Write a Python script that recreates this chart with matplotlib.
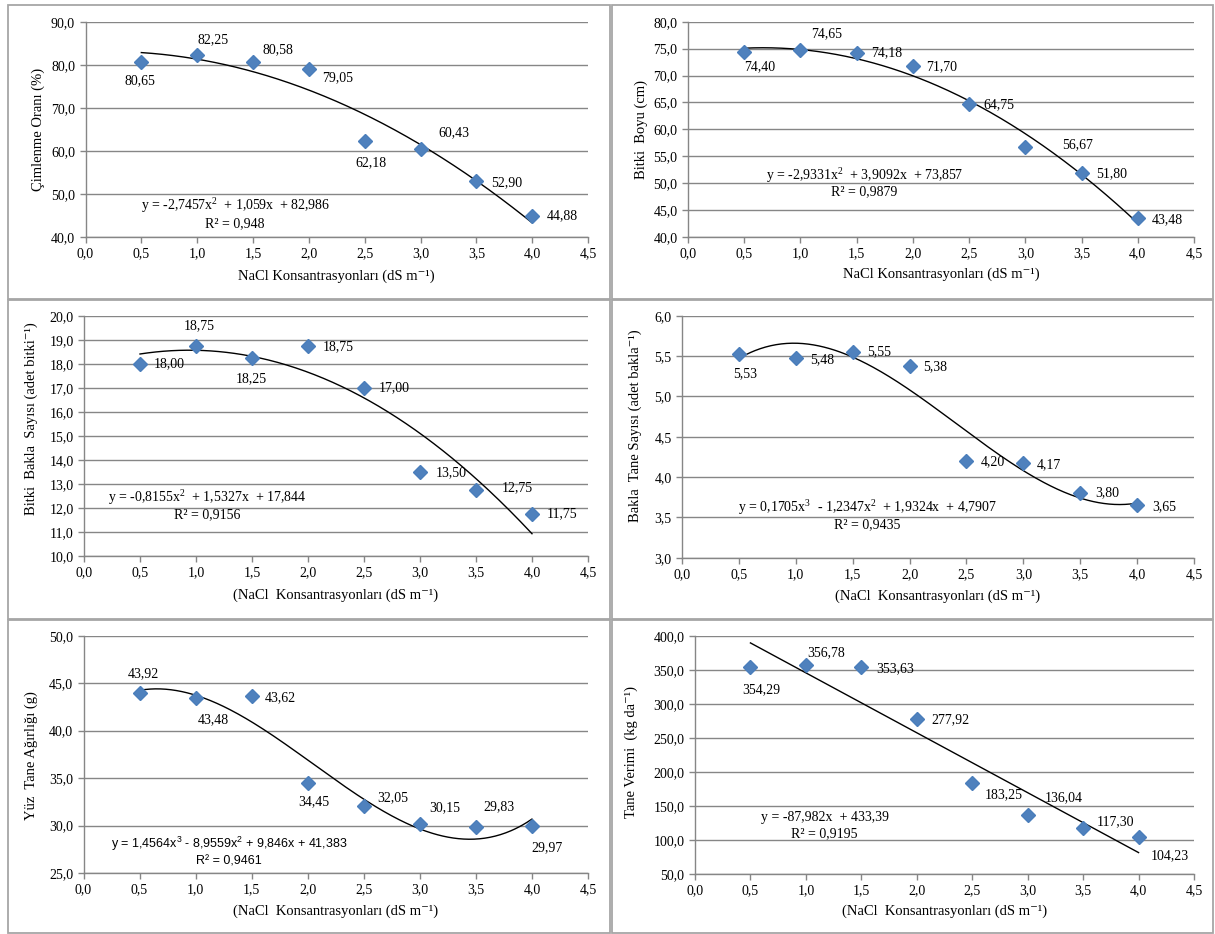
import numpy as np
import matplotlib
matplotlib.use("Agg")
import matplotlib.pyplot as plt
from matplotlib.ticker import FuncFormatter, MultipleLocator
from matplotlib.patches import Rectangle

plt.rcParams['font.family'] = ['Liberation Serif', 'DejaVu Serif']
plt.rcParams['mathtext.fontset'] = 'custom'
plt.rcParams['mathtext.rm'] = 'Liberation Serif'
plt.rcParams['mathtext.default'] = 'regular'

# ---------------- data ----------------
nacl = [0.5, 1.0, 1.5, 2.0, 2.5, 3.0, 3.5, 4.0]

cimlenme = [80.65, 82.25, 80.58, 79.05, 62.18, 60.43, 52.90, 44.88]
boy = [74.40, 74.65, 74.18, 71.70, 64.75, 56.67, 51.80, 43.48]
bakla_sayisi = [18.00, 18.75, 18.25, 18.75, 17.00, 13.50, 12.75, 11.75]
tane_sayisi = [5.53, 5.48, 5.55, 5.38, 4.20, 4.17, 3.80, 3.65]
yuz_tane = [43.92, 43.48, 43.62, 34.45, 32.05, 30.15, 29.83, 29.97]
verim = [354.29, 356.78, 353.63, 277.92, 183.25, 136.04, 117.30, 104.23]

ylabels = ["Çimlenme Oranı (%)", "Bitki  Boyu (cm)",
           "Bitki  Bakla  Sayısı (adet bitki⁻¹)",
           "Bakla  Tane Sayısı (adet bakla⁻¹)",
           "Yüz  Tane Ağırlığı (g)", "Tane Verimi  (kg da⁻¹)"]
xlab1 = "NaCl Konsantrasyonları (dS m⁻¹)"
xlab2 = "(NaCl  Konsantrasyonları (dS m⁻¹)"

eq_texts = [
    ("y = -2,7457x$^2$  + 1,059x  + 82,986", "R² = 0,948"),
    ("y = -2,9331x$^2$  + 3,9092x  + 73,857", "R² = 0,9879"),
    ("y = -0,8155x$^2$  + 1,5327x  + 17,844", "R² = 0,9156"),
    ("y = 0,1705x$^3$  - 1,2347x$^2$  + 1,9324x  + 4,7907", "R² = 0,9435"),
    ("y = 1,4564x$^3$ - 8,9559x$^2$ + 9,846x + 41,383", "R² = 0,9461"),
    ("y = -87,982x  + 433,39", "R² = 0,9195"),
]

# ---------------- layout ----------------
W, H = 1215, 934
fig = plt.figure(figsize=(W / 100, H / 100), dpi=100)

def fr(l, r, t, b):
    return [l / W, 1 - b / H, (r - l) / W, (b - t) / H]

panels = [
    dict(y=cimlenme, deg=2, box=fr(85.5, 588, 21.7, 237), ylim=(40, 90), step=10,
         xl=xlab1, xly=-0.181, yly=(-0.0945, 0.5), eq=(1.34, 47.2, 43.2),
         off=[(-1.5, 19), (16, -15), (25, -13), (29, 9), (6, 21), (33, -16), (30, 1), (30, 0)]),
    dict(y=boy, deg=2, box=fr(688, 1194, 21.7, 237), ylim=(40, 80), step=5,
         xl=xlab1, xly=-0.172, yly=(-0.093, 0.5), eq=(1.57, 51.5, 48.4),
         off=[(15, 15), (26, -17), (30, 0), (29, 0), (30, 1), (52, -3), (30, 0), (30, 1)]),
    dict(y=bakla_sayisi, deg=2, box=fr(84, 588, 315.7, 556), ylim=(10, 20), step=1,
         xl=xlab2, xly=-0.162, yly=(-0.105, 0.57), eq=(1.10, 12.43, 11.73),
         off=[(29, 0), (3, -20), (-1, 21), (30, 1), (30, 0), (31, 1), (41, -2), (30, 0)]),
    dict(y=tane_sayisi, deg=3, box=fr(682, 1194, 315.7, 557.7), ylim=(3, 6), step=0.5,
         xl=xlab2, xly=-0.158, yly=(-0.091, 0.544), eq=(1.63, 3.62, 3.41),
         off=[(6, 20), (26, 2), (26, 0), (26, 1), (26, 1), (26, 1), (27, 0), (27, 1)]),
    dict(y=yuz_tane, deg=3, box=fr(83.5, 588, 635.7, 873), ylim=(25, 50), step=5,
         xl=xlab2, xly=-0.16, yly=(-0.104, 0.494), eq=(1.30, 28.1, 26.2),
         off=[(4, -20), (18, 22), (29, 1), (6, 18), (29, -8), (25, -16), (23, -20), (15, 22)]),
    dict(y=verim, deg=1, box=fr(695, 1194, 635.7, 874), ylim=(50, 400), step=50,
         xl=xlab2, xly=-0.158, yly=(-0.128, 0.512), eq=(1.17, 132.7, 108.8),
         off=[(11, 23), (20, -12), (34, 1), (34, 1), (32, 11), (36, -18), (32, -6), (31, 19)]),
]

# panel frames
frame_col = '#A6A6A6'
boxes = [(8, 610, 5, 299), (612, 1213, 5, 299), (8, 610, 300, 619),
         (612, 1213, 300, 619), (8, 610, 620, 933), (612, 1213, 620, 933)]
for (l, r, t, b) in boxes:
    fig.add_artist(Rectangle((l / W, 1 - b / H), (r - l) / W, (b - t) / H,
                             transform=fig.transFigure, fill=False,
                             edgecolor=frame_col, lw=1.3))

comma = FuncFormatter(lambda v, p: f"{v:.1f}".replace('.', ','))
grid_col = '#868686'
blue = '#4F81BD'

for i, p in enumerate(panels):
    ax = fig.add_axes(p['box'])
    x = np.array(nacl)
    y = np.array(p['y'])
    coef = np.polyfit(x, y, p['deg'])
    xs = np.linspace(x.min(), x.max(), 300)
    ax.plot(xs, np.polyval(coef, xs), color='black', lw=1.0, zorder=2)
    ax.plot(x, y, linestyle='none', marker='D', markersize=7, color=blue,
            markeredgecolor='#4A7EBB', zorder=3)
    for xi, yi, (dx, dy) in zip(x, y, p['off']):
        ax.annotate(f"{yi:.2f}".replace('.', ','), (xi, yi),
                    xytext=(dx * 0.72, -dy * 0.72), textcoords='offset points',
                    ha='center', va='center', fontsize=10)
    ax.set_xlim(0, 4.5)
    ax.set_ylim(*p['ylim'])
    ax.xaxis.set_major_locator(MultipleLocator(0.5))
    ax.yaxis.set_major_locator(MultipleLocator(p['step']))
    ax.xaxis.set_major_formatter(comma)
    ax.yaxis.set_major_formatter(comma)
    ax.grid(axis='y', color=grid_col, lw=1.0)
    ax.set_axisbelow(True)
    for s in ['top', 'right']:
        ax.spines[s].set_visible(False)
    for s in ['left', 'bottom']:
        ax.spines[s].set_color(grid_col)
        ax.spines[s].set_linewidth(1.0)
    ax.tick_params(axis='both', colors=grid_col, labelcolor='black',
                   labelsize=10, length=4, width=1.0, direction='out')
    ax.set_xlabel(p['xl'], fontsize=10.5)
    ax.xaxis.set_label_coords(0.5, p['xly'])
    ax.xaxis.label.set_va('center')
    ax.set_ylabel(ylabels[i], fontsize=10.5)
    ax.yaxis.set_label_coords(*p['yly'])
    ax.yaxis.label.set_va('center')
    ex, ey1, ey2 = p['eq']
    if i == 4:
        fam = ['Liberation Sans', 'DejaVu Sans']
        fs = 9
    else:
        fam = ['Liberation Serif', 'DejaVu Serif']
        fs = 10
    ax.text(ex, ey1, eq_texts[i][0], ha='center', va='center', fontsize=fs, family=fam)
    ax.text(ex, ey2, eq_texts[i][1], ha='center', va='center', fontsize=fs, family=fam)

fig.savefig('out.png', dpi=100)
